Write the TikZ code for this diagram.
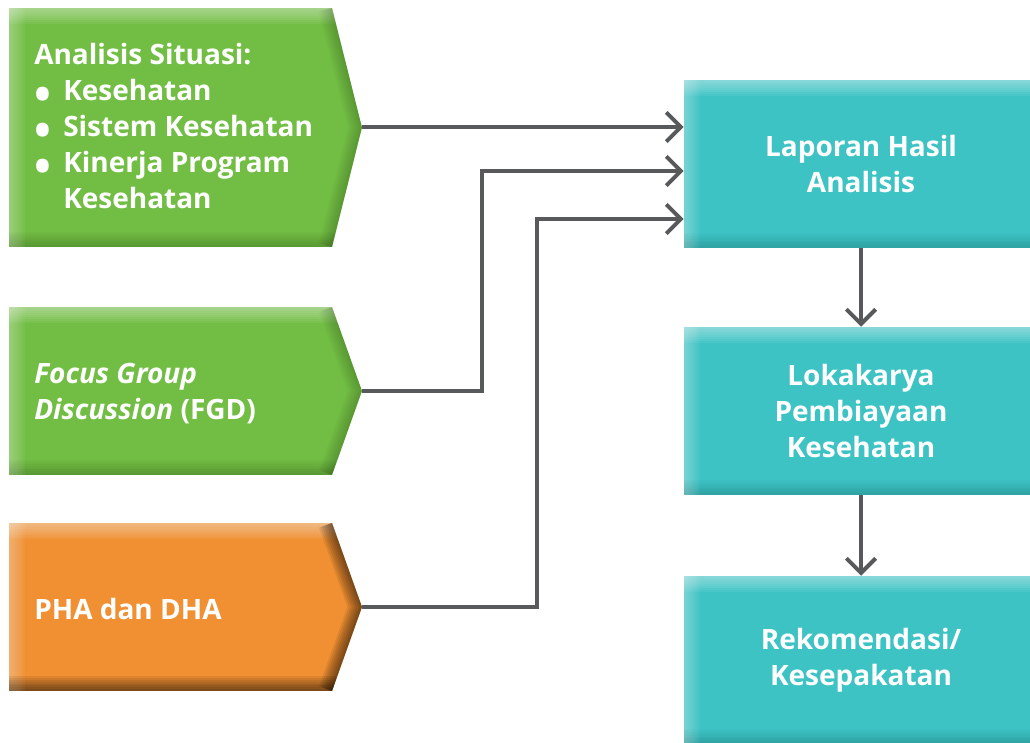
\documentclass[tikz,border=0pt]{standalone}
\usepackage{fontspec}
\setmainfont{Open Sans}
\usetikzlibrary{arrows.meta,calc}
\definecolor{cgreen}{HTML}{72BE44}
\definecolor{corange}{HTML}{F09033}
\definecolor{cteal}{HTML}{3EC3C4}
\definecolor{cline}{HTML}{58595B}
% bevel effect: #1 sw, #2 nw, #3 ne, #4 se, #5 darkness per step
\newcommand{\bevel}[5]{%
  \foreach \i in {1,...,8}{%
    \fill[white,opacity=0.045] (#1) rectangle ([xshift=\i*1.5pt]#2);
    \fill[white,opacity=0.06] (#2) rectangle ([yshift=-\i*1.5pt]#3);
    \fill[black,opacity=#5] (#1) rectangle ([yshift=\i*1.4pt]#4);
  }}
\newcommand{\pentbox}[4]{% top y, bottom y, colour, darkness
  \begin{scope}
    \clip (9,#1) -- (332,#1) -- (362,{(#1+#2)/2}) -- (332,#2) -- (9,#2) -- cycle;
    \fill[#3] (0,#1) rectangle (370,#2);
    \coordinate (psw) at (9,#2); \coordinate (pnw) at (9,#1);
    \coordinate (pne) at (370,#1); \coordinate (pse) at (370,#2);
    \bevel{psw}{pnw}{pne}{pse}{#4}
    \foreach \i in {1,...,8}{%
      \draw[black, opacity=#4, line width=\i*2.6pt] (332,#1) -- (362,{(#1+#2)/2}) -- (332,#2);}
  \end{scope}}
\newcommand{\bul}{\makebox[21.75pt][l]{\smash{\raisebox{-7.8pt}{\scalebox{1.6}{•}}}}}
\tikzset{
  conn/.style={draw=cline, line width=3pt, -{Straight Barb[length=11pt,width=22pt]}},
  label/.style={text=white, font=\bfseries\fontsize{21pt}{27pt}\selectfont, inner sep=0pt},
  tealbox/.style={rectangle, fill=cteal, minimum width=265.5pt, minimum height=126pt,
    inner sep=0pt, align=center, text=white, font=\bfseries\fontsize{21pt}{27pt}\selectfont,
    path picture={\bevel{path picture bounding box.south west}{path picture bounding box.north west}{path picture bounding box.north east}{path picture bounding box.south east}{0.02}}},
}
\begin{document}
\begin{tikzpicture}[x=0.75pt,y=-0.75pt]
\useasboundingbox (0,0) rectangle (1030,742);
% left arrow-shaped boxes
\pentbox{8}{247}{cgreen}{0.025}
\pentbox{307}{475}{cgreen}{0.025}
\pentbox{523}{691}{corange}{0.075}
\coordinate (t1) at (362,127);
\coordinate (t2) at (362,391);
\coordinate (t3) at (362,607);
\node[label, anchor=north west, align=left] (s1) at (34,43)
  {Analisis Situasi:\\
   \bul Kesehatan\\
   \bul Sistem Kesehatan\\
   \bul Kinerja Program\\
   \hspace*{21.75pt}Kesehatan};
\node[label, anchor=north west, align=left] (s2) at (34,363)
  {\textit{Focus Group}\\ \textit{Discussion} (FGD)};
\node[label, anchor=north west, align=left] (s3) at (34,598) {PHA dan DHA};
% right boxes
\node[tealbox] (A) at (861,164) {Laporan Hasil\\Analisis};
\node[tealbox] (B) at (861,411) {Lokakarya\\Pembiayaan\\Kesehatan};
\node[tealbox] (C) at (861,660) {Rekomendasi/\\Kesepakatan};
% connectors
\draw[conn] (t1) -- (t1 -| A.west);
\draw[conn] (t2) -- (482,391) -- (482,171) -- (A.west |- 0,171);
\draw[conn] (t3) -- (537,607) -- (537,219) -- (A.west |- 0,219);
\draw[conn] (A) -- (B);
\draw[conn] (B) -- (C);
\end{tikzpicture}
\end{document}
